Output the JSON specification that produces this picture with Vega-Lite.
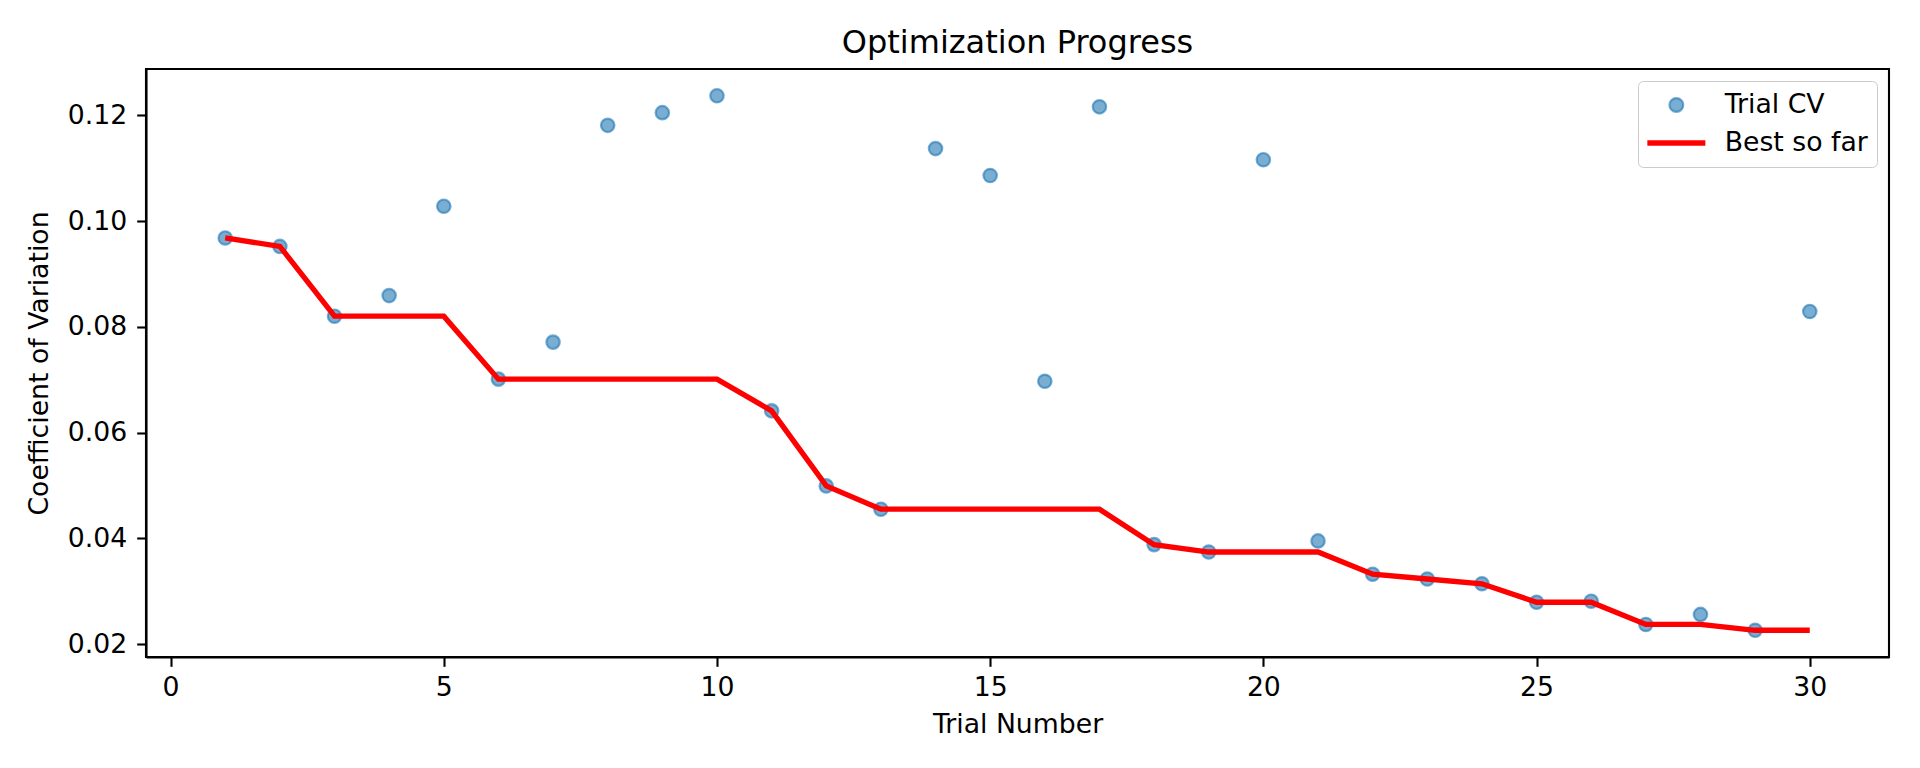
{
  "$schema": "https://vega.github.io/schema/vega-lite/v6.json",
  "autosize": {"type": "none"},
  "padding": {"left": 146, "top": 69, "right": 31, "bottom": 111},
  "width": 1743,
  "height": 588,
  "background": "white",
  "title": {
    "text": "Optimization Progress",
    "font": "DejaVu Sans",
    "fontSize": 32,
    "fontWeight": "normal",
    "color": "black",
    "anchor": "middle",
    "frame": "group",
    "offset": 9
  },
  "config": {
    "view": {"stroke": "black", "strokeWidth": 2.1},
    "axis": {
      "grid": false,
      "domainColor": "black",
      "domainWidth": 2.1,
      "tickColor": "black",
      "tickWidth": 2.1,
      "tickSize": 9.3,
      "labelFont": "DejaVu Sans",
      "labelFontSize": 26.7,
      "labelColor": "black",
      "titleFont": "DejaVu Sans",
      "titleFontSize": 26.7,
      "titleFontWeight": "normal",
      "titleColor": "black"
    }
  },
  "data": {
    "values": [
      {"trial": 1, "cv": 0.0968, "best": 0.0968},
      {"trial": 2, "cv": 0.0952, "best": 0.0952},
      {"trial": 3, "cv": 0.0820, "best": 0.0820},
      {"trial": 4, "cv": 0.0859, "best": 0.0820},
      {"trial": 5, "cv": 0.1028, "best": 0.0820},
      {"trial": 6, "cv": 0.0701, "best": 0.0701},
      {"trial": 7, "cv": 0.0771, "best": 0.0701},
      {"trial": 8, "cv": 0.1181, "best": 0.0701},
      {"trial": 9, "cv": 0.1205, "best": 0.0701},
      {"trial": 10, "cv": 0.1237, "best": 0.0701},
      {"trial": 11, "cv": 0.0641, "best": 0.0641},
      {"trial": 12, "cv": 0.0499, "best": 0.0499},
      {"trial": 13, "cv": 0.0455, "best": 0.0455},
      {"trial": 14, "cv": 0.1137, "best": 0.0455},
      {"trial": 15, "cv": 0.1086, "best": 0.0455},
      {"trial": 16, "cv": 0.0697, "best": 0.0455},
      {"trial": 17, "cv": 0.1216, "best": 0.0455},
      {"trial": 18, "cv": 0.0388, "best": 0.0388},
      {"trial": 19, "cv": 0.0374, "best": 0.0374},
      {"trial": 20, "cv": 0.1116, "best": 0.0374},
      {"trial": 21, "cv": 0.0395, "best": 0.0374},
      {"trial": 22, "cv": 0.0332, "best": 0.0332},
      {"trial": 23, "cv": 0.0323, "best": 0.0323},
      {"trial": 24, "cv": 0.0314, "best": 0.0314},
      {"trial": 25, "cv": 0.0279, "best": 0.0279},
      {"trial": 26, "cv": 0.0281, "best": 0.0279},
      {"trial": 27, "cv": 0.0237, "best": 0.0237},
      {"trial": 28, "cv": 0.0256, "best": 0.0237},
      {"trial": 29, "cv": 0.0226, "best": 0.0226},
      {"trial": 30, "cv": 0.0829, "best": 0.0226}
    ]
  },
  "encoding": {
    "x": {
      "field": "trial",
      "type": "quantitative",
      "title": "Trial Number",
      "scale": {"domain": [-0.45, 31.45], "nice": false, "zero": false},
      "axis": {"values": [0, 5, 10, 15, 20, 25, 30], "format": "d", "labelPadding": 8, "titlePadding": 10, "labelFlush": false}
    }
  },
  "layer": [
    {
      "mark": {"type": "point", "filled": true, "size": 180, "fillOpacity": 0.6, "stroke": "#1f77b4", "strokeOpacity": 0.6, "strokeWidth": 2.2, "opacity": 1},
      "encoding": {
        "y": {
          "field": "cv",
          "type": "quantitative",
          "title": "Coefficient of Variation",
          "scale": {"domain": [0.017545, 0.128755], "nice": false, "zero": false},
          "axis": {"values": [0.02, 0.04, 0.06, 0.08, 0.1, 0.12], "format": ".2f", "labelPadding": 10, "titlePadding": 14, "labelFlush": false}
        },
        "color": {
          "datum": "Trial CV",
          "type": "nominal",
          "scale": {"domain": ["Trial CV", "Best so far"], "range": ["#1f77b4", "#ff0000"]},
          "legend": {
            "orient": "top-right",
            "offset": 12,
            "title": null,
            "symbolSize": 2809,
            "symbolOffset": 16,
            "clipHeight": 30,
            "rowPadding": 8,
            "padding": 9,
            "labelFont": "DejaVu Sans",
            "labelFontSize": 26.7,
            "labelColor": "black",
            "labelOffset": 35,
            "strokeColor": "#cccccc",
            "fillColor": "rgba(255,255,255,0.8)",
            "cornerRadius": 5,
            "encoding": {
              "symbols": {
                "shape": {"value": {"expr": "datum.value === 'Best so far' ? 'stroke' : 'circle'"}},
                "size": {"value": {"expr": "datum.value === 'Best so far' ? 3364 : 190"}},
                "fill": {"value": {"expr": "datum.value === 'Best so far' ? 'transparent' : '#1f77b4'"}},
                "fillOpacity": {"value": 0.6},
                "stroke": {"value": {"expr": "datum.value === 'Best so far' ? '#ff0000' : '#1f77b4'"}},
                "strokeOpacity": {"value": {"expr": "datum.value === 'Best so far' ? 1 : 0.6"}},
                "strokeWidth": {"value": {"expr": "datum.value === 'Best so far' ? 5.3 : 2.2"}},
                "opacity": {"value": 1}
              }
            }
          }
        }
      }
    },
    {
      "mark": {"type": "line", "strokeWidth": 5.3, "color": "#ff0000"},
      "encoding": {
        "y": {"field": "best", "type": "quantitative"},
        "color": {"datum": "Best so far", "type": "nominal"}
      }
    }
  ]
}
